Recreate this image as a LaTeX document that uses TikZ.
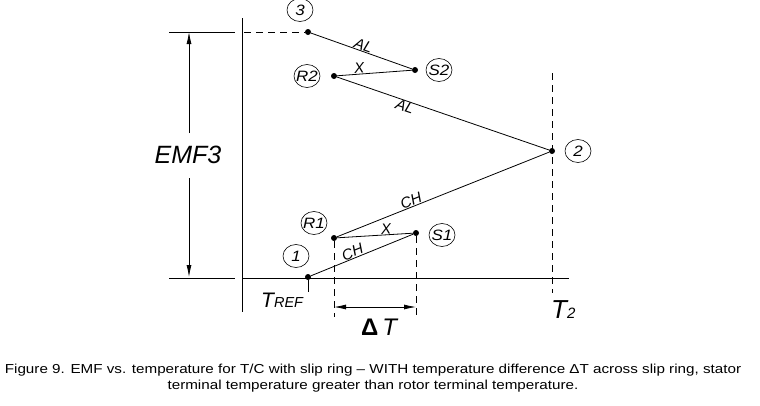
\documentclass[tikz,border=0pt]{standalone}
\usepackage{fontspec}
\setmainfont{Liberation Sans}
\usetikzlibrary{arrows.meta}
\begin{document}
\begin{tikzpicture}[x=1pt,y=-1pt,
  thinln/.style={line width=0.8pt},
  axisln/.style={line width=0.9pt},
  dashln/.style={line width=0.8pt, dash pattern=on 7pt off 5pt},
  dot/.style={circle, fill, inner sep=0pt, minimum size=6pt},
  lbl/.style={font=\fontsize{15}{15}\selectfont\itshape, inner sep=0.5pt},
  circlbl/.style={circle, draw, line width=0.6pt, inner sep=0pt, minimum size=23pt, xscale=1.13, transform shape, font=\fontsize{15}{15}\selectfont\itshape},
  dimarrow/.style={line width=0.8pt, -{Latex[length=12pt,width=5pt]}},
]
\useasboundingbox (0,0) rectangle (760,405);
\fill[white] (0,0) rectangle (760,405);

% points
\node[dot] (p3) at (308,32) {};
\node[dot] (S2) at (415,70) {};
\node[dot] (R2) at (334,76) {};
\node[dot] (p2) at (552,151) {};
\node[dot] (R1) at (334,238) {};
\node[dot] (S1) at (416,233) {};
\node[dot] (p1) at (308,277) {};

% circled labels
\node[circlbl] (c3) at (300,10) {3};
\node[circlbl] (cS2) at (439,70) {S2};
\node[circlbl] (cR2) at (307,76) {R2};
\node[circlbl] (c2) at (578,151) {2};
\node[circlbl] (cR1) at (314,223) {R1};
\node[circlbl] (c1) at (296,256) {1};
\node[circlbl] (cS1) at (442,235) {S1};

% axes
\coordinate (vaxT) at (242,18);
\coordinate (vaxB) at (242,312);
\coordinate (haxL) at (242,278);
\coordinate (haxR) at (569,278);
\draw[axisln] (vaxT) -- (vaxB);
\draw[axisln] (haxL) -- (haxR);
\coordinate (extBL) at (169,278);
\coordinate (extBR) at (235,278);
\coordinate (extTL) at (169,32);
\coordinate (extTR) at (235,32);
\coordinate (dashTL) at (244,32);
\draw[axisln] (extBL) -- (extBR);
\draw[axisln] (extTL) -- (extTR);
\draw[dashln] (dashTL) -- (p3);

% tick under point 1
\coordinate (tick1) at (308,292);
\draw[thinln] (p1) -- (tick1);

% T2 dashed line
\coordinate (t2T) at (552,73);
\coordinate (t2B) at (552,293);
\draw[dashln] (t2T) -- (t2B);

% delta T dashed lines and arrow
\coordinate (dR1) at (334,317);
\coordinate (dS1) at (416,317);
\draw[dashln] (R1) -- (dR1);
\draw[dashln] (S1) -- (dS1);
\coordinate (aL) at (334,307);
\coordinate (aR) at (416,307);
\coordinate (aM) at (375,307);
\draw[dimarrow] (aM) -- (aL);
\draw[dimarrow] (aM) -- (aR);

% EMF3 dimension
\node[font=\fontsize{25}{25}\selectfont\itshape, inner sep=0pt] (emf) at (188,155) {EMF3};
\coordinate (emfT) at (189,32);
\coordinate (emfB) at (189,277);
\coordinate (emfU) at (189,133);
\coordinate (emfD) at (189,178);
\draw[dimarrow] (emfU) -- (emfT);
\draw[dimarrow] (emfD) -- (emfB);

% curve segments
\draw[thinln] (p3) -- node[lbl, pos=.5, above, sloped] {AL} (S2);
\draw[thinln] (R2) -- node[lbl, pos=.3, above, sloped] {X} (S2);
\draw[thinln] (R2) -- node[lbl, pos=.33, below, sloped] {AL} (p2);
\draw[thinln] (R1) -- node[lbl, pos=.36, above, sloped] {CH} (p2);
\draw[thinln] (R1) -- node[lbl, pos=.65, above, sloped] {X} (S1);
\draw[thinln] (p1) -- node[lbl, pos=.43, above, sloped] {CH} (S1);

% axis labels
\node[anchor=base west, inner sep=0pt, font=\itshape] (tref) at (261,307) {\fontsize{21}{21}\selectfont T\fontsize{14.5}{14.5}\selectfont REF};
\node[anchor=base west, inner sep=0pt, font=\itshape] (t2) at (551,318) {\fontsize{26}{26}\selectfont T\fontsize{15}{15}\selectfont 2};
\node[anchor=base west, inner sep=0pt] (dT) at (361,335) {\fontsize{24}{24}\selectfont\bfseries Δ\,\mdseries\itshape T};

% caption
\node[font=\fontsize{13}{16}\selectfont, align=center, inner sep=0pt, xscale=1.17, transform shape] (cap) at (373,378) {Figure 9. EMF vs. temperature for T/C with slip ring – WITH temperature difference ΔT across slip ring, stator\\terminal temperature greater than rotor terminal temperature.};
\end{tikzpicture}
\end{document}
